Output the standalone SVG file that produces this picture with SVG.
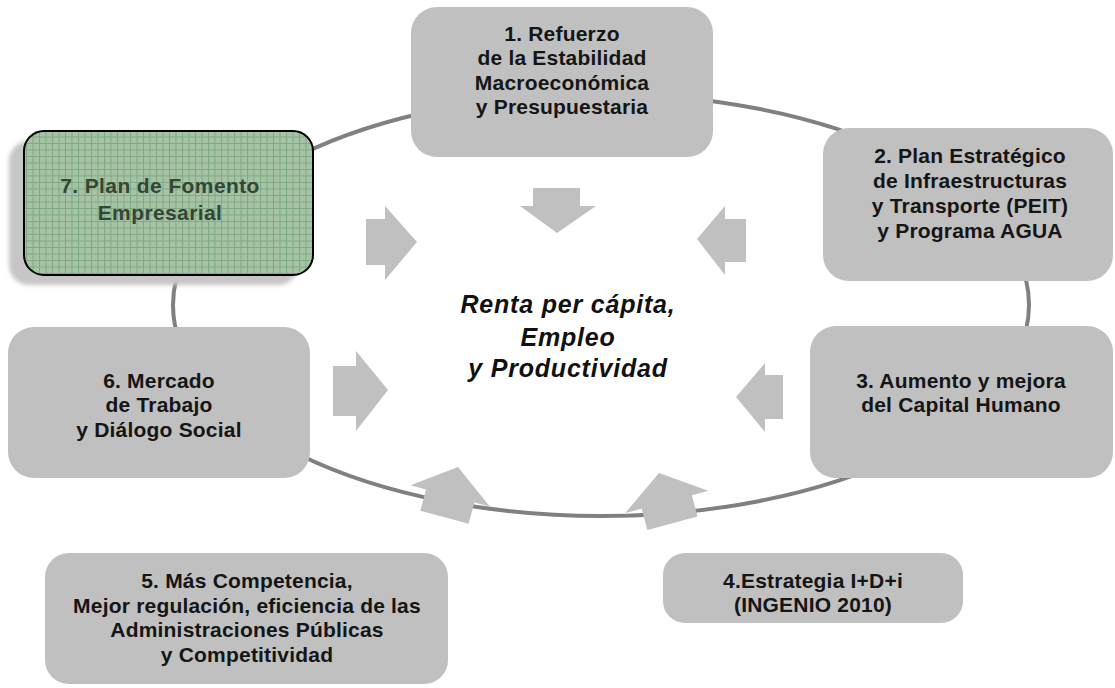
<svg xmlns="http://www.w3.org/2000/svg" width="1115" height="688" viewBox="0 0 1115 688">
  <defs>
    <pattern id="grid" width="6.5" height="6.5" patternUnits="userSpaceOnUse">
      <rect width="6.5" height="6.5" fill="#a6c3a6"/>
      <path d="M0 0.5H6.5M0.5 0V6.5" stroke="#7fa981" stroke-width="1"/>
    </pattern>
    <filter id="blur" x="-10%" y="-10%" width="120%" height="120%">
      <feGaussianBlur stdDeviation="2"/>
    </filter>
  </defs>
  <style>
    .box { fill: #c0c0c0; }
    .arrow { fill: #c0c0c0; }
    .ring { fill: none; stroke: #808080; stroke-width: 4; }
    .lbl { font-family: "Liberation Sans", Arial, sans-serif; font-weight: bold; font-size: 21px; letter-spacing: 0.2px; fill: #151515; text-anchor: middle; }
    .center { font-family: "Liberation Sans", Arial, sans-serif; font-weight: bold; font-style: italic; font-size: 25px; letter-spacing: 0.8px; fill: #111; text-anchor: middle; }
  </style>
  <rect width="1115" height="688" fill="#ffffff"/>

  <g id="connectors">
    <ellipse class="ring" cx="601" cy="305" rx="428" ry="211"/>
  </g>

  <g id="node1">
    <rect class="box" x="411" y="7" width="302" height="150" rx="26"/>
    <text class="lbl"><tspan x="562" y="41">1. Refuerzo</tspan><tspan x="562" y="65.3">de la Estabilidad</tspan><tspan x="562" y="89.6">Macroeconómica</tspan><tspan x="562" y="113.9">y Presupuestaria</tspan></text>
  </g>

  <g id="node2">
    <rect class="box" x="823" y="128" width="290" height="153" rx="26"/>
    <text class="lbl"><tspan x="970" y="163">2. Plan Estratégico</tspan><tspan x="970" y="188">de Infraestructuras</tspan><tspan x="970" y="213">y Transporte (PEIT)</tspan><tspan x="970" y="238">y Programa AGUA</tspan></text>
  </g>

  <g id="node3">
    <rect class="box" x="810" y="326" width="303" height="152" rx="26"/>
    <text class="lbl"><tspan x="961" y="388">3. Aumento y mejora</tspan><tspan x="961" y="412">del Capital Humano</tspan></text>
  </g>

  <g id="node4">
    <rect class="box" x="663" y="553" width="300" height="70" rx="22"/>
    <text class="lbl"><tspan x="813" y="588">4.Estrategia I+D+i</tspan><tspan x="813" y="612">(INGENIO 2010)</tspan></text>
  </g>

  <g id="node5">
    <rect class="box" x="45" y="553" width="403" height="131" rx="24"/>
    <text class="lbl"><tspan x="247" y="588">5. Más Competencia,</tspan><tspan x="247" y="613">Mejor regulación, eficiencia de las</tspan><tspan x="247" y="637">Administraciones Públicas</tspan><tspan x="247" y="662">y Competitividad</tspan></text>
  </g>

  <g id="node6">
    <rect class="box" x="8" y="327" width="302" height="151" rx="26"/>
    <text class="lbl"><tspan x="159" y="388">6. Mercado</tspan><tspan x="159" y="412">de Trabajo</tspan><tspan x="159" y="437">y Diálogo Social</tspan></text>
  </g>

  <g id="node7">
    <rect x="9" y="141" width="289" height="144" rx="20" fill="#c6c6c6" filter="url(#blur)"/>
    <rect x="24" y="131" width="289" height="144" rx="20" fill="url(#grid)" stroke="#000" stroke-width="2"/>
    <text class="lbl" style="fill:#354535; letter-spacing:0.4px"><tspan x="160" y="193">7. Plan de Fomento</tspan><tspan x="160" y="220">Empresarial</tspan></text>
  </g>

  <g id="arrows">
    <polygon class="arrow" points="533,188 580,188 580,206 596,206 557,233 520,206 533,206"/>
    <polygon class="arrow" points="366,219 385,219 385,206 417,242 385,280 385,265 366,265"/>
    <polygon class="arrow" points="746,219 725,219 725,206 697,239 725,275 725,262 746,262"/>
    <polygon class="arrow" points="333,366 356,366 356,351 388,390 356,431 356,416 333,416"/>
    <polygon class="arrow" points="783,375 765,375 765,363 736,397 765,432 765,419 783,419"/>
    <polygon class="arrow" transform="translate(458,467) rotate(15)" points="0,0 41,30 25,30 25,52 -25,52 -25,30 -41,30"/>
    <polygon class="arrow" transform="translate(659,473) rotate(-15)" points="0,0 43,30 26,30 26,52 -26,52 -26,30 -43,30"/>
  </g>

  <g id="center">
    <text class="center"><tspan x="568" y="313">Renta per cápita,</tspan><tspan x="568" y="346">Empleo</tspan><tspan x="568" y="377">y Productividad</tspan></text>
  </g>
</svg>
